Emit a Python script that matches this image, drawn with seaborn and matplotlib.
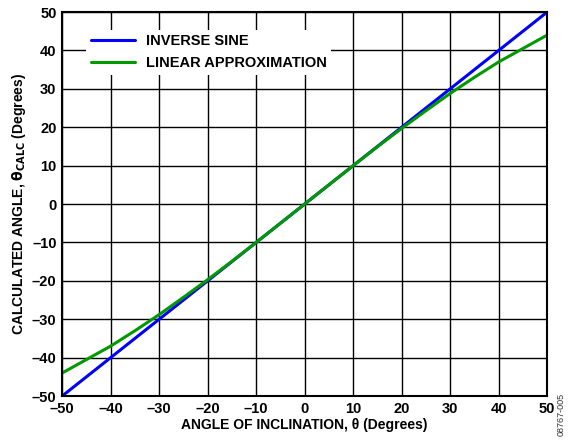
import numpy as np
import pandas as pd
import matplotlib
matplotlib.use("Agg")
import matplotlib.pyplot as plt
import seaborn as sns

# values (degrees)
angle = [-50, -45, -40, -35, -30, -25, -20, -15, -10, -5, 0,
         5, 10, 15, 20, 25, 30, 35, 40, 45, 50]
inverse_sine = [-50, -45, -40, -35, -30, -25, -20, -15, -10, -5, 0,
                5, 10, 15, 20, 25, 30, 35, 40, 45, 50]
linear_approx = [-44, -40.5, -37, -33, -28.8, -24.3, -19.7, -14.9, -10, -5, 0,
                 5, 10, 14.9, 19.7, 24.3, 28.8, 33, 37, 40.5, 44]
ticks = [-50, -40, -30, -20, -10, 0, 10, 20, 30, 40, 50]

sns.set_style("white")
plt.rcParams['font.family'] = ['Liberation Sans', 'DejaVu Sans']
plt.rcParams['text.color'] = 'black'
plt.rcParams['axes.labelcolor'] = 'black'
plt.rcParams['xtick.color'] = 'black'
plt.rcParams['ytick.color'] = 'black'

fig = plt.figure(figsize=(5.7, 4.45), dpi=100)
ax = fig.add_axes([0.109, 0.110, 0.851, 0.863])

sns.lineplot(x=angle, y=inverse_sine, ax=ax, color='#0000ff', lw=2.2,
             label='INVERSE SINE')
sns.lineplot(x=angle, y=linear_approx, ax=ax, color='#009900', lw=2.2,
             label='LINEAR APPROXIMATION')

ax.set_xlim(-50, 50)
ax.set_ylim(-50, 50)
ax.set_xticks(ticks)
ax.set_yticks(ticks)
ax.set_xticklabels([str(t).replace('-', '\u2013') for t in ticks],
                   fontsize=10.5, fontweight='bold')
ax.set_yticklabels([str(t).replace('-', '\u2013') for t in ticks],
                   fontsize=10.5, fontweight='bold')
ax.tick_params(length=0, pad=4)
ax.grid(True, color='black', lw=1)
ax.set_axisbelow(True)
for s in ax.spines.values():
    s.set_color('black')
    s.set_linewidth(1.5)

ax.set_xlabel('ANGLE OF INCLINATION, \u03b8 (Degrees)', fontsize=10,
              fontweight='bold', labelpad=2)
ax.set_ylabel(r'CALCULATED ANGLE, $\mathbf{\theta_{CALC}}$ (Degrees)',
              fontsize=10, fontweight='bold', labelpad=3)

leg = ax.legend(loc='upper left', bbox_to_anchor=(0.035, 0.972), frameon=True,
                fancybox=False, edgecolor='white', framealpha=1,
                prop={'size': 10.5, 'weight': 'bold'}, handlelength=3.0,
                handletextpad=0.8, borderpad=0.3, labelspacing=0.55)
leg.get_frame().set_linewidth(0)

fig.text(0.992, 0.02, '08767-005', rotation=90, fontsize=6.5, color='#333333',
         ha='right', va='bottom')

fig.savefig('out.png', dpi=100)
